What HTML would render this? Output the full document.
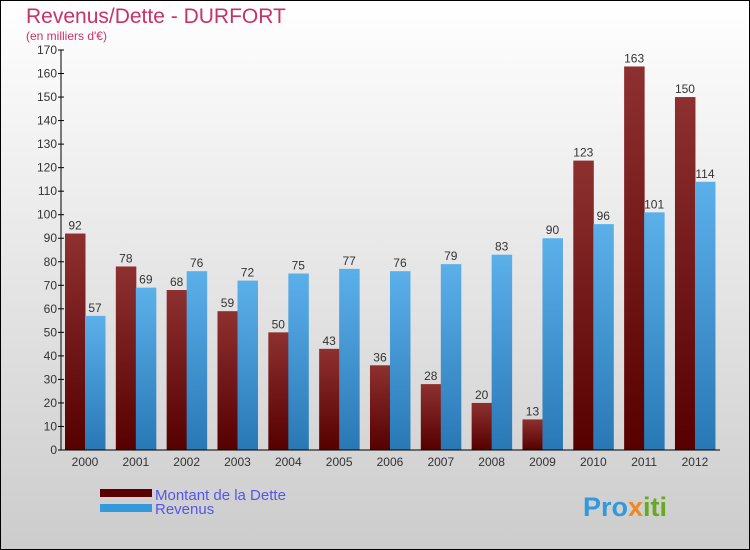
<!DOCTYPE html>
<html><head><meta charset="utf-8"><style>
body{margin:0;width:750px;height:550px;overflow:hidden}
svg{display:block;font-family:"Liberation Sans","DejaVu Sans",sans-serif}
</style></head><body>
<svg id="chart" width="750" height="550" viewBox="0 0 750 550">
<defs>
<linearGradient id="bg" x1="0" y1="0" x2="0" y2="1"><stop offset="0" stop-color="#ffffff"/><stop offset="1" stop-color="#cccccc"/></linearGradient>
<linearGradient id="gd" x1="0" y1="0" x2="0" y2="1"><stop offset="0" stop-color="#8e3030"/><stop offset="1" stop-color="#560000"/></linearGradient>
<linearGradient id="gr" x1="0" y1="0" x2="0" y2="1"><stop offset="0" stop-color="#5cb0ea"/><stop offset="1" stop-color="#2878b5"/></linearGradient>
</defs>
<rect x="0.5" y="0.5" width="749" height="549" fill="url(#bg)" stroke="#000"/>
<text x="26" y="23" font-size="21" fill="#c8326a">Revenus/Dette - DURFORT</text>
<text x="26" y="40" font-size="12" fill="#c8326a">(en milliers d'€)</text>
<g id="bars"></g>
<g id="axes"></g>
<rect x="100" y="489" width="52" height="8" fill="#5a0000"/>
<text x="155" y="500" font-size="15" fill="#5555ee">Montant de la Dette</text>
<rect x="100" y="504" width="52" height="8" fill="#3399dd"/>
<text x="155" y="514" font-size="15" fill="#5555ee">Revenus</text>
<text x="583" y="516" font-size="27" font-weight="bold" fill="#3399dd">Pro<tspan fill="#ee8822">x</tspan><tspan fill="#66aa22">iti</tspan></text>
</svg>
<script>
const categories=["2000","2001","2002","2003","2004","2005","2006","2007","2008","2009","2010","2011","2012"];
const detteValues=[92,78,68,59,50,43,36,28,20,13,123,163,150];
const revenusValues=[57,69,76,72,75,77,76,79,83,90,96,101,114];
const yTicks=[0,10,20,30,40,50,60,70,80,90,100,110,120,130,140,150,160,170];
const NS="http://www.w3.org/2000/svg";
const y0=450,yTop=50,yMax=170;
const yScale=v=>y0-(v/yMax)*(y0-yTop);
const xCenter=i=>85+i*50.83;
function mk(tag,attrs,parent){const e=document.createElementNS(NS,tag);for(const k in attrs)e.setAttribute(k,attrs[k]);parent.appendChild(e);return e;}
const bars=document.getElementById('bars'),axes=document.getElementById('axes');
categories.forEach((c,i)=>{
  const cx=xCenter(i);
  [[detteValues[i],cx-20,'url(#gd)','dette'],[revenusValues[i],cx,'url(#gr)','revenus']].forEach(([v,x,f,s])=>{
    const r=mk('rect',{x:x,y:yScale(v),width:20.5,height:y0-yScale(v),fill:f},bars);
    
    
    const t=mk('text',{x:x+10,y:yScale(v)-4,'font-size':12,fill:'#333','text-anchor':'middle'},bars);
    t.textContent=v;
    
    
  });
  const tl=mk('text',{x:cx,y:466,'font-size':12,fill:'#333','text-anchor':'middle'},axes);
  tl.textContent=c;
  
  
});
const ya=mk('line',{x1:61,y1:yTop,x2:61,y2:y0,stroke:'#000'},axes);


const xa=mk('line',{x1:61,y1:y0,x2:720,y2:y0,stroke:'#000'},axes);


yTicks.forEach(v=>{
  const y=yScale(v);
  const tk=mk('line',{x1:58,y1:y,x2:64,y2:y,stroke:'#000'},axes);
  
  
  const t=mk('text',{x:57,y:y+4,'font-size':12,fill:'#333','text-anchor':'end'},axes);
  t.textContent=v;
  
  
});
</script>
</body></html>
